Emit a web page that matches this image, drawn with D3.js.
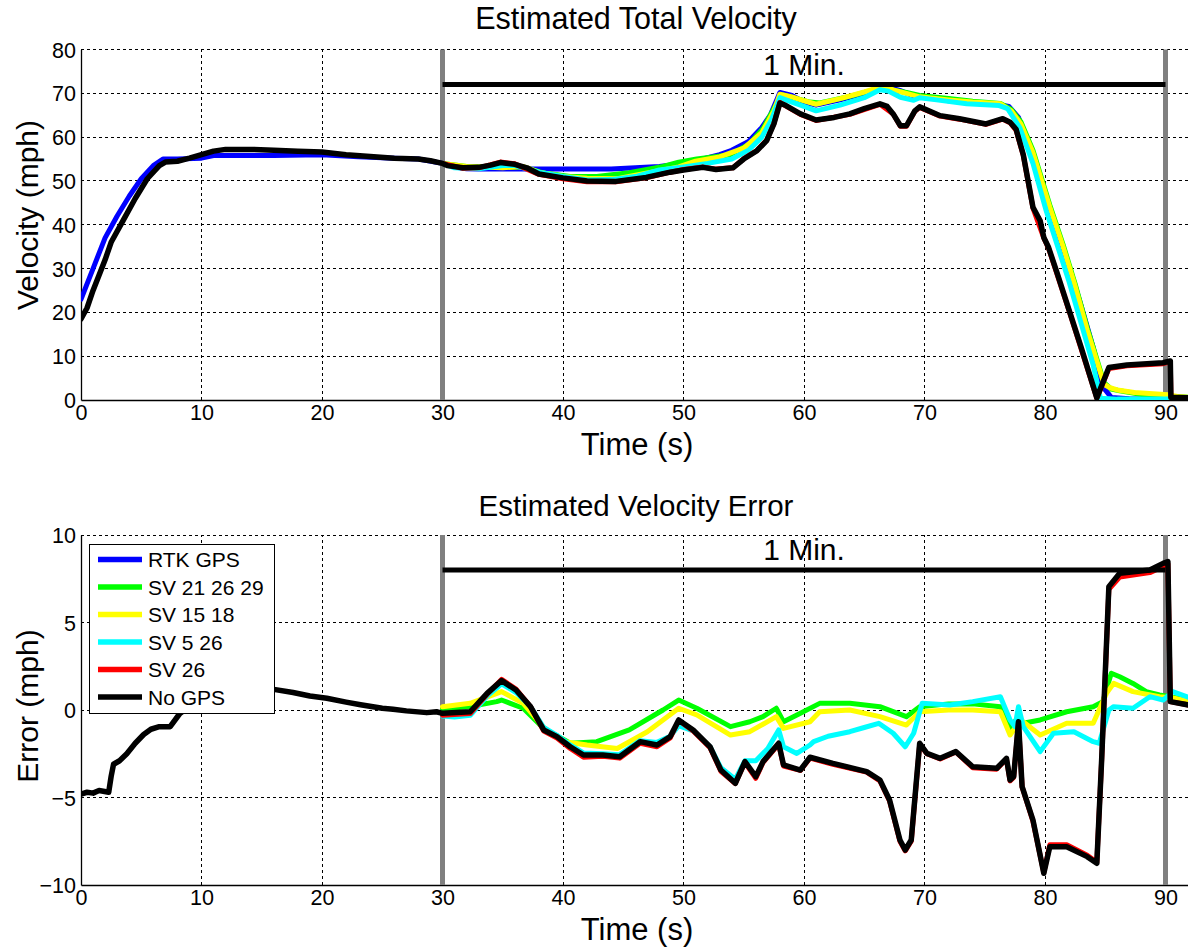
<!DOCTYPE html>
<html>
<head>
<meta charset="utf-8">
<script src="https://cdn.jsdelivr.net/npm/d3@7"></script>
<style>
  html, body { margin: 0; padding: 0; background: #fff; }
  svg { display: block; font-family: "Liberation Sans", Arial, sans-serif; }
</style>
</head>
<body>
<svg id="chart" width="1188" height="947"></svg>
<script>
// ---------------- DATA ----------------
const seriesNames = ["RTK GPS", "SV 21 26 29", "SV 15 18", "SV 5 26", "SV 26", "No GPS"];
const seriesColors = ["#0000ff", "#00ff00", "#ffff00", "#00ffff", "#ff0000", "#000000"];

const xTicks = [0, 10, 20, 30, 40, 50, 60, 70, 80, 90];
const velTicks = [0, 10, 20, 30, 40, 50, 60, 70, 80];
const errTicks = [-10, -5, 0, 5, 10];

// Top: Estimated Total Velocity (time s, mph)
const velRTK = [[0,23],[1,30],[2,37],[3,42],[4,46.5],[5,50.5],[6,53.5],[6.8,55],[8,55],[10,55.2],[11,55.8],[13,55.8],[16,55.8],[20,56],[23,55.5],[26,55.2],[28,55],[30,54],[31,53.2],[32,52.8],[33,52.7],[36,52.7],[40,52.7],[44,52.7],[46,53],[48,53.3],[50,54],[51.6,55],[53,56],[54,57],[55.4,59],[56.5,62.2],[57.2,65],[58,70.2],[59,69.5],[60,68],[61,67.3],[63,68.5],[65,70],[66.5,71.2],[67.5,71],[68,70.6],[69,69.5],[70,69.3],[72,68.3],[74,67.8],[76,67.5],[77,67],[77.8,64.5],[79,56],[80,47],[81,39],[82,30.5],[83,21.5],[84,12],[84.8,3],[85.5,0.6],[87,0.3],[90,0.2],[92,0.2]];
const velSV212629 = [[30,54],[32,53.3],[34.9,53.2],[36.7,53.2],[38.4,51.8],[40.6,51],[42.8,51],[45.5,51.9],[48.3,53.3],[49.6,54.3],[51.1,55],[53.9,56],[55.5,58.5],[56.6,62],[57.7,67.5],[58.3,69.6],[60.5,68],[61.3,67.8],[63.8,69.3],[66.3,71.2],[68.5,70.2],[69.6,69.5],[72,68.8],[74,68.2],[76.3,67.7],[77.2,66.3],[78,63.5],[79,57],[80.4,44.5],[81.5,35.5],[82.5,26.5],[83.5,16.5],[84.9,4],[85.5,2.5],[86.2,2.1],[87.3,1.6],[88.4,1.1],[89.5,0.9],[90.5,0.8],[92,0.6]];
const velSV1518 = [[30,54],[32,53.3],[35,53],[36.7,53.3],[38,52],[40,51],[42,50.6],[44.5,50.5],[47,51.8],[49.6,53.2],[51,54.5],[53,55.5],[55,57.5],[56.5,61],[57.5,66],[58,69.8],[59,69.2],[60,68.3],[61,67.5],[63,68.8],[65,70.3],[66.3,71.4],[67.4,70.8],[68.5,70],[69.6,69.2],[72,68.5],[74,68],[76.3,67.6],[77.2,66],[78,63],[79,56.5],[80.4,44],[81.5,35],[82.5,26],[83.5,16],[84.9,3.6],[85.4,2.8],[86,2.3],[87.4,1.7],[89.6,1.3],[90.2,1.2],[91,0.8],[92,0.6]];
const velSV526 = [[30,54],[31,53],[33,52.8],[35,53.5],[36,53.5],[38,52],[40,51],[42,50.2],[44,50.3],[46,51],[48,52.5],[50,53.2],[52,54],[54,55],[55.4,57],[56.5,60],[57.3,64],[58,69],[59,68],[60,67],[61,66],[63,67.3],[65,69],[66.3,70.8],[67,70.5],[68,69.1],[69.1,68.4],[69.6,69],[71,68.5],[73.5,67.6],[76.2,67.2],[76.9,66.5],[77.9,62.2],[79,54],[80.1,43.2],[81,35.5],[82,27],[83,17.5],[84,8],[84.6,0.4],[86,0.2],[90,0.2],[92,0.2]];
const velSV26 = [[30,54],[31.7,52.9],[33,53],[34.8,54.3],[36,53.9],[38,51.5],[40,50.5],[42,49.8],[44.4,49.8],[46.9,50.7],[48.9,52],[50,52.6],[51.6,53.2],[52.7,52.7],[54.1,53],[55,55.1],[56.1,57],[56.9,59.3],[57.5,63.1],[58,67.9],[59.7,65.2],[61,63.8],[63.8,65.2],[66.3,67.5],[67.4,65.3],[68,62.5],[68.5,62.5],[69.2,65.9],[69.6,66.8],[71.3,64.8],[72.9,64.1],[75.1,62.9],[76.5,64.1],[77.1,63.3],[77.6,61.6],[78.2,55.8],[79,43.8],[79.9,37],[80.3,34.6],[82,20.3],[84.3,0.4],[85.3,7.2],[86.8,7.8],[89.8,8.3],[90.4,8.7],[90.45,0.6],[92,0.5]];
const velNoGPS = [[0,18.5],[0.5,21],[1,25],[2,32],[2.5,36],[3.5,41],[4.5,46],[5.5,50.5],[6.5,53.5],[7,54.3],[8,54.5],[9,55.2],[10,56],[11,56.8],[12,57.2],[14,57.2],[16,57],[18,56.8],[20,56.6],[22,56],[24,55.6],[26,55.2],[28,55],[29,54.6],[30,54],[30.4,53.5],[31.7,53],[33,53.1],[34,53.6],[34.8,54.2],[36,53.8],[37,53],[38,51.6],[40,50.7],[42,50],[44.4,49.9],[46.9,50.8],[48.9,52],[50,52.5],[51.6,53.1],[52.7,52.6],[54.1,53],[55,55],[56.1,56.9],[56.9,59.2],[57.5,63],[58,67.8],[58.5,67.2],[59.7,65.3],[61,63.9],[62.5,64.5],[63.8,65.3],[65,66.5],[66.3,67.6],[66.9,67],[67.4,65.3],[68,62.6],[68.5,62.6],[69.2,66],[69.6,66.9],[71.3,64.9],[72.9,64.2],[75.1,63],[76.5,64.2],[77.1,63.4],[77.6,61.8],[78.2,56],[79,44],[79.6,40.9],[79.9,37.1],[80.3,34.8],[81,29],[82,20.5],[83,12],[84.3,0.5],[85.3,7.4],[86.8,8],[89.8,8.5],[90.4,8.9],[90.45,0.6],[92,0.5]];

// Bottom: Estimated Velocity Error (time s, mph)
const errSV212629 = [[30,0.05],[32.3,0.2],[34.5,0.48],[34.9,0.57],[36.7,0.1],[38.4,-1.05],[40.6,-1.9],[42.8,-1.81],[45.5,-1.14],[48.3,0],[49.6,0.57],[51.1,0.1],[53.9,-0.95],[55.5,-0.67],[56.6,-0.38],[57.7,0.1],[58.3,-0.67],[59.7,-0.19],[61.3,0.38],[63.8,0.38],[66.3,0.19],[68.5,-0.38],[69.6,0.19],[72,0.35],[74,0.35],[76.3,0.19],[77.1,-1.0],[77.8,-0.4],[78.2,-0.76],[79.6,-0.57],[81.8,-0.1],[84,0.19],[84.8,0.48],[85.5,2.1],[86.2,1.9],[87.3,1.52],[88.4,1.05],[89.5,0.86],[90.5,0.75],[92,0.55]];
const errSV1518 = [[30,0.19],[32.3,0.38],[34.9,1.05],[36.7,0.38],[38.4,-1.0],[40.1,-1.81],[42,-2.0],[44.5,-2.2],[47,-1.24],[49.6,0.1],[51.1,-0.28],[53.9,-1.43],[55.5,-1.24],[57.7,-0.38],[58.3,-1.05],[60.5,-0.67],[61.3,-0.1],[63.8,0],[66.3,-0.38],[68.5,-0.86],[69.6,-0.1],[72,0],[74,0],[76.3,-0.1],[77.1,-1.43],[78,-0.57],[79.6,-1.43],[81.8,-0.76],[84,-0.76],[85.1,0.95],[85.7,1.52],[87.3,1.05],[89.5,0.76],[90.5,0.7],[92,0.5]];
const errSV526 = [[30,-0.35],[31,-0.4],[32.3,-0.3],[33.7,0.8],[34.9,1.5],[36.1,1.0],[37.3,0.2],[38.4,-1.0],[39.5,-1.45],[40.6,-2.0],[41.7,-2.45],[43.3,-2.5],[44.7,-2.55],[46.4,-1.75],[47.8,-1.85],[48.9,-1.5],[49.6,-0.9],[50.8,-1.2],[52.2,-2.1],[53.1,-3.3],[54.3,-3.95],[55.1,-2.9],[56,-2.9],[57,-2.2],[57.9,-1.14],[58.3,-2.1],[59.4,-2.48],[60.5,-2.0],[60.8,-1.81],[62,-1.5],[63.8,-1.24],[65,-1.0],[66.2,-0.76],[67.4,-1.33],[68.4,-2.1],[69.1,-1.33],[69.8,0.38],[72.1,0.29],[74,0.48],[76.3,0.76],[77.1,-0.57],[77.5,-0.95],[77.8,0.19],[78.2,-0.95],[79.6,-2.38],[80.7,-1.33],[82.4,-1.24],[84,-1.81],[84.5,-1.9],[85.3,0],[85.7,0.19],[87.3,0.1],[88.7,0.76],[89.8,0.57],[90.6,1.05],[92,0.7]];
const errSV26 = [[30,-0.3],[32.3,-0.2],[33.7,0.9],[34.9,1.75],[36.1,1.2],[37.3,0.2],[38.4,-1.2],[39.5,-1.6],[40.6,-2.2],[41.7,-2.7],[43.3,-2.65],[44.7,-2.75],[46.4,-1.9],[47.8,-2.1],[48.9,-1.6],[49.6,-0.6],[50.8,-1.2],[52.2,-2.15],[53.1,-3.5],[54.3,-4.2],[55.1,-3.0],[56,-3.9],[56.6,-3.0],[57.9,-1.95],[58.3,-3.2],[59.7,-3.45],[60.5,-2.75],[62.4,-3.1],[65.2,-3.55],[66.3,-4.05],[67.1,-5.2],[67.96,-7.5],[68.4,-8.05],[68.9,-7.5],[69.6,-1.95],[70.2,-2.5],[71.3,-2.8],[72.6,-2.4],[74,-3.3],[76,-3.38],[76.8,-2.8],[77.1,-4.05],[77.4,-3.85],[77.8,-0.7],[78.1,-4.4],[79,-6.35],[79.9,-9.3],[80.4,-7.7],[81.8,-7.7],[83.5,-8.3],[84.3,-8.7],[84.7,-2.9],[85.3,6.9],[86.2,7.6],[88.7,7.85],[89.8,8.2],[90.2,8.35],[90.4,0.48],[91.9,0.29]];
const errNoGPS = [[0,-4.8],[0.5,-4.7],[1,-4.75],[1.5,-4.6],[2.3,-4.7],[2.5,-3.8],[2.7,-3.1],[3.2,-2.9],[3.8,-2.5],[4.5,-1.9],[5.2,-1.4],[5.8,-1.1],[6.5,-0.95],[7.4,-0.95],[8.2,-0.2],[9,0.2],[10,0.6],[12,1.0],[14,1.2],[16,1.18],[17.6,1.0],[19,0.8],[20.4,0.67],[22,0.45],[23.2,0.3],[25,0.1],[25.9,0.04],[27,-0.05],[28.7,-0.15],[29.5,-0.1],[30,-0.19],[32.3,-0.1],[33.7,0.95],[34.9,1.68],[36.1,1.14],[37.3,0.19],[38.4,-1.14],[39.5,-1.52],[40.6,-2.1],[41.7,-2.57],[43.3,-2.57],[44.7,-2.67],[46.4,-1.81],[47.8,-2.0],[48.9,-1.52],[49.6,-0.57],[50.8,-1.14],[52.2,-2.1],[53.1,-3.43],[54.3,-4.19],[55.1,-2.95],[56,-3.81],[56.6,-2.95],[57.9,-1.9],[58.3,-3.14],[59.7,-3.43],[60.5,-2.7],[62.4,-3.05],[65.2,-3.52],[66.3,-4.0],[67.1,-5.14],[67.96,-7.43],[68.4,-8.0],[68.9,-7.43],[69.6,-1.9],[70.2,-2.48],[71.3,-2.76],[72.6,-2.38],[74,-3.24],[76,-3.33],[76.8,-2.76],[77.1,-4.0],[77.4,-3.8],[77.8,-0.67],[78.1,-4.38],[79,-6.29],[79.9,-9.33],[80.4,-7.81],[81.8,-7.81],[83.5,-8.38],[84.3,-8.76],[84.7,-2.86],[85.3,7.05],[86.2,7.81],[88.7,8.0],[89.8,8.38],[90.2,8.48],[90.4,0.48],[91.9,0.29]];

const velSeries = [velRTK, velSV212629, velSV1518, velSV526, velSV26, velNoGPS];
const errSeries = [null, errSV212629, errSV1518, errSV526, errSV26, errNoGPS];

const windowStart = 30, windowEnd = 90;
const velBarLevel = 72, errBarLevel = 8;
const barLabel = "1 Min.";

// ---------------- DRAW ----------------
const svg = d3.select("#chart");
const FONT = '"Liberation Sans", Arial, sans-serif';

function panel(cfg) {
  const x = d3.scaleLinear().domain([0, 92]).range([81, 1189.6]);
  const y = d3.scaleLinear().domain(cfg.yDomain).range([cfg.bottom, cfg.top]);
  const g = svg.append("g");
  const clipId = "clip" + cfg.id;
  svg.append("clipPath").attr("id", clipId).append("rect")
    .attr("x", x(0)).attr("y", cfg.top - 4).attr("width", x(92) - x(0)).attr("height", cfg.bottom - cfg.top + 4);

  // grid
  const grid = g.append("g").attr("stroke", "#000").attr("stroke-width", 1).attr("stroke-dasharray", "3,3").attr("shape-rendering", "crispEdges");
  xTicks.filter(t => t > 0).forEach(t => grid.append("line").attr("x1", x(t)).attr("x2", x(t)).attr("y1", y(cfg.yDomain[0])).attr("y2", y(cfg.yDomain[1])));
  cfg.yTicks.filter(t => t > cfg.yDomain[0]).forEach(t => grid.append("line").attr("x1", x(0)).attr("x2", x(92)).attr("y1", y(t)).attr("y2", y(t)));

  // axes
  const xAxis = d3.axisBottom(x).tickValues(xTicks).tickSize(0).tickPadding(5).tickFormat(d3.format("d"));
  const gx = g.append("g").attr("transform", `translate(0,${cfg.bottom})`).call(xAxis);
  const yAxis = d3.axisLeft(y).tickValues(cfg.yTicks).tickSize(0).tickPadding(5).tickFormat(d3.format("d"));
  const gy = g.append("g").attr("transform", `translate(${x(0)},0)`).call(yAxis);
  [gx, gy].forEach(a => {
    a.selectAll(".domain").attr("stroke", "#000").attr("stroke-width", 1.3);
    a.selectAll("text").attr("font-family", FONT).attr("font-size", 21.5).attr("fill", "#000");
  });
  gx.selectAll("text").attr("dy", "0.71em");
  gy.selectAll("text").attr("dy", "0.35em");

  // gray window lines
  [windowStart, windowEnd].forEach(t => g.append("line")
    .attr("x1", x(t)).attr("x2", x(t)).attr("y1", cfg.top).attr("y2", cfg.bottom)
    .attr("stroke", "#808080").attr("stroke-width", 5));

  // data
  const line = d3.line().x(d => x(d[0])).y(d => y(d[1]));
  const lines = g.append("g").attr("clip-path", `url(#${clipId})`);
  cfg.series.forEach((s, i) => {
    if (!s) return;
    lines.append("path").datum(s).attr("d", line)
      .attr("fill", "none").attr("stroke", seriesColors[i])
      .attr("stroke-width", i === 5 ? 5.5 : 5).attr("stroke-linejoin", "round").attr("stroke-linecap", "round");
  });

  // 1 Min. bar
  g.append("line").attr("x1", x(windowStart)).attr("x2", x(windowEnd))
    .attr("y1", y(cfg.barLevel)).attr("y2", y(cfg.barLevel))
    .attr("stroke", "#000").attr("stroke-width", 5);
  g.append("text").attr("x", x((windowStart + windowEnd) / 2)).attr("y", y(cfg.barLevel) - 10)
    .attr("text-anchor", "middle").attr("font-family", FONT).attr("font-size", 30).text(barLabel);

  // titles and labels
  svg.append("text").attr("x", 636).attr("y", cfg.titleY).attr("text-anchor", "middle")
    .attr("font-family", FONT).attr("font-size", cfg.titleSize).text(cfg.title);
  svg.append("text").attr("x", 637).attr("y", cfg.xLabelY).attr("text-anchor", "middle")
    .attr("font-family", FONT).attr("font-size", 31).text("Time (s)");
  svg.append("text").attr("transform", `translate(${cfg.yLabelX},${cfg.yLabelCy}) rotate(-90)`)
    .attr("text-anchor", "middle").attr("font-family", FONT).attr("font-size", 30).text(cfg.yLabel);
  return { x, y, g };
}

panel({ id: 1, yDomain: [0, 80], yTicks: velTicks, top: 49.5, bottom: 400, series: velSeries,
  barLevel: velBarLevel, title: "Estimated Total Velocity", titleSize: 30.5, titleY: 29, xLabelY: 455,
  yLabel: "Velocity (mph)", yLabelX: 38, yLabelCy: 215 });
panel({ id: 2, yDomain: [-10, 10], yTicks: errTicks, top: 535, bottom: 885, series: errSeries,
  barLevel: errBarLevel, title: "Estimated Velocity Error", titleSize: 29.5, titleY: 516, xLabelY: 940,
  yLabel: "Error (mph)", yLabelX: 38, yLabelCy: 706 });

// legend
const lg = svg.append("g");
lg.append("rect").attr("x", 89.5).attr("y", 544.5).attr("width", 185).attr("height", 169)
  .attr("fill", "#fff").attr("stroke", "#000").attr("stroke-width", 1);
seriesNames.forEach((name, i) => {
  const cy = 559.5 + i * 27.5;
  lg.append("line").attr("x1", 98).attr("x2", 142).attr("y1", cy).attr("y2", cy)
    .attr("stroke", seriesColors[i]).attr("stroke-width", 5.5);
  lg.append("text").attr("x", 148).attr("y", cy).attr("dy", "0.36em")
    .attr("font-family", FONT).attr("font-size", 21).text(name);
});
</script>
</body>
</html>
